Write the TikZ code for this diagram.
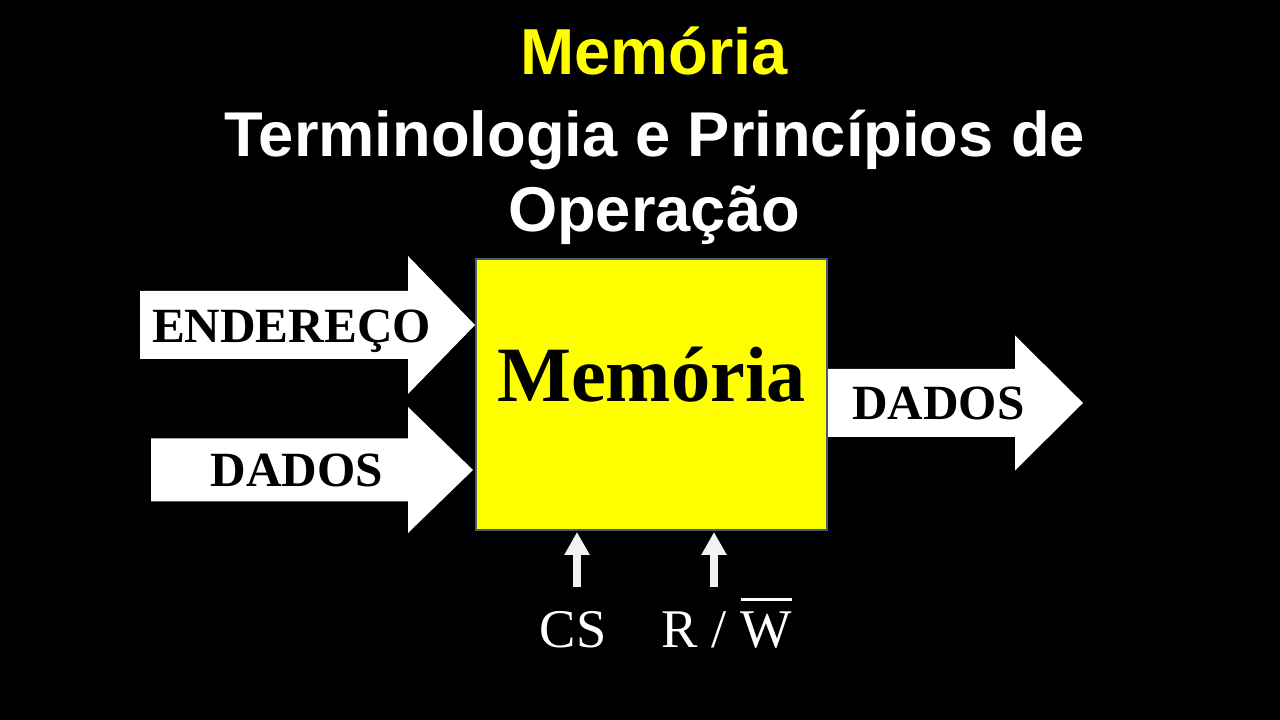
\documentclass[tikz,border=0pt]{standalone}
\usepackage{fontspec}
\setmainfont{Liberation Serif}
\newfontfamily\headfont{Liberation Sans}
\usetikzlibrary{arrows.meta}
\definecolor{memyellow}{RGB}{255,255,0}
\definecolor{boxedge}{RGB}{70,90,115}
\definecolor{pinwhite}{RGB}{242,242,242}
\newcommand\barletter[1]{\setbox0\hbox{#1}\rlap{\rule[13.5pt]{\wd0}{0.85pt}}\box0}

\begin{document}
\begin{tikzpicture}[
bigarrow/.style={fill=white},
arrowlabel/.style={font=\fontsize{14}{16}\selectfont\bfseries,anchor=base,inner sep=0pt},
pinlabel/.style={font=\fontsize{15.5}{18}\selectfont,text=white,anchor=base,inner sep=0pt},
pinarrow/.style={pinwhite,line width=0.08cm,shorten >=0.02cm,-{Triangle[width=0.24cm,length=0.23cm]}},
headline/.style={font=\headfont\bfseries\fontsize{18}{21}\selectfont,text=white,anchor=base,inner sep=0pt},
membox/.style={draw=boxedge,fill=memyellow,line width=0.8pt,minimum width=3.51cm,minimum height=2.71cm,inner sep=0pt,outer sep=0pt}]

\fill[black] (0,0) rectangle (12.8,7.2);
\useasboundingbox (0,0) rectangle (12.8,7.2);

% titles
\node[headline,text=memyellow,font=\headfont\bfseries\fontsize{18.5}{22}\selectfont] (ttl) at (6.54,6.45) {Memória};
\node[headline] (sub1) at (6.55,5.63) {Terminologia e Princípios de};
\node[headline] (sub2) at (6.54,4.88) {Operação};

% big signal arrows
\foreach \xa/\xb/\xc/\ym/\hb/\hh in {1.40/4.08/4.75/3.95/0.34/0.69, 1.51/4.08/4.73/2.50/0.315/0.63, 8.27/10.15/10.83/3.17/0.34/0.675}
  \fill[bigarrow] (\xa,\ym-\hb) -- (\xb,\ym-\hb) -- (\xb,\ym-\hh) -- (\xc,\ym) -- (\xb,\ym+\hh) -- (\xb,\ym+\hb) -- (\xa,\ym+\hb) -- cycle;
\node[arrowlabel] (addr) at (2.915,3.77) {ENDEREÇO};
\node[arrowlabel] (din) at (2.97,2.33) {DADOS};
\node[arrowlabel] (dout) at (9.385,3.00) {DADOS};

% memory block
\node[membox] (mem) at (6.515,3.255) {};
\node[font=\fontsize{22.3}{26}\selectfont\bfseries,anchor=base,inner sep=0pt] (memlabel) at (6.515,3.18) {Memória};

% control inputs
\coordinate (cspin) at (5.77,1.33);
\coordinate (rwpin) at (7.14,1.33);
\draw[pinarrow] (cspin) -- (cspin |- mem.south);
\draw[pinarrow] (rwpin) -- (rwpin |- mem.south);
\node[pinlabel] (cs) at (5.73,0.72) {CS};
\node[pinlabel] (rw) at (7.27,0.72) {R / \barletter{W}};

\end{tikzpicture}
\end{document}
